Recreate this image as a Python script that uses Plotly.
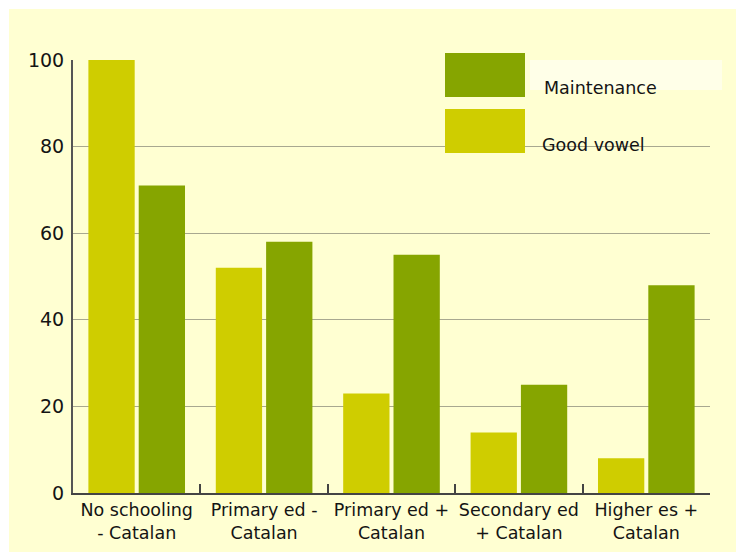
import plotly.graph_objects as go

categories = ["No schooling<br>- Catalan", "Primary ed -<br>Catalan", "Primary ed +<br>Catalan",
              "Secondary ed<br>+ Catalan", "Higher es +<br>Catalan"]
good_vowel = [100, 52, 23, 14, 8]
maintenance = [71, 58, 55, 25, 48]
y_ticks = [0, 20, 40, 60, 80, 100]

YELLOW = "#CFCD00"
GREEN = "#86A500"
BG = "#FFFFD2"
FONT = "DejaVu Sans"
TXT = "#141414"

fig = go.Figure()
fig.add_trace(go.Bar(x=categories, y=good_vowel, name="Good vowel", marker_color=YELLOW,
                     marker_line_width=0, showlegend=False))
fig.add_trace(go.Bar(x=categories, y=maintenance, name="Maintenance", marker_color=GREEN,
                     marker_line_width=0, showlegend=False))

L, R, T, B = 73, 26, 60, 62
W, H = 736, 555
pw, ph = W - L - R, H - T - B


def px(x):
    return (x - L) / pw


def py(y):
    return (H - B - y) / ph


shapes = [
    dict(type="rect", xref="paper", yref="paper", x0=px(9), x1=px(740), y0=py(9), y1=py(552),
         fillcolor=BG, line_width=0, layer="below"),
    dict(type="rect", xref="paper", yref="paper", x0=px(530), x1=px(722), y0=py(60), y1=py(90),
         fillcolor="#FFFFE8", line_width=0, layer="below"),
    dict(type="rect", xref="paper", yref="paper", x0=px(445), x1=px(525), y0=py(53), y1=py(97),
         fillcolor=GREEN, line_width=0, layer="above"),
    dict(type="rect", xref="paper", yref="paper", x0=px(445), x1=px(525), y0=py(109), y1=py(153),
         fillcolor=YELLOW, line_width=0, layer="above"),
]
annotations = [
    dict(xref="paper", yref="paper", x=px(542), y=py(88), text="Maintenance", showarrow=False,
         xanchor="left", yanchor="middle", font=dict(family=FONT, size=17.5, color=TXT)),
    dict(xref="paper", yref="paper", x=px(540), y=py(145), text="Good vowel", showarrow=False,
         xanchor="left", yanchor="middle", font=dict(family=FONT, size=17.5, color=TXT)),
]

fig.update_layout(
    width=W, height=H,
    margin=dict(l=L, r=R, t=T, b=B, pad=0, autoexpand=False),
    paper_bgcolor="white",
    plot_bgcolor="rgba(0,0,0,0)",
    barmode="group",
    bargap=0.21,
    bargroupgap=0.08,
    shapes=shapes,
    annotations=annotations,
    font=dict(family=FONT, size=17.5, color=TXT),
    xaxis=dict(
        range=[-0.5, 4.5], tickangle=0, automargin=False,
        showline=True, linecolor="#444", linewidth=2,
        ticks="inside", tickson="boundaries", ticklen=9, tickwidth=2, tickcolor="#444",
        showgrid=False, tickfont=dict(family=FONT, size=17.5, color=TXT),
    ),
    yaxis=dict(
        range=[0, 100], tickvals=y_ticks, automargin=False,
        showline=True, linecolor="#555", linewidth=2,
        showgrid=True, gridcolor="#A8A890", gridwidth=1,
        ticks="outside", ticklen=3, tickcolor="rgba(0,0,0,0)",
        zeroline=False, tickfont=dict(family=FONT, size=19, color=TXT),
    ),
)

fig.write_html("out.html")
